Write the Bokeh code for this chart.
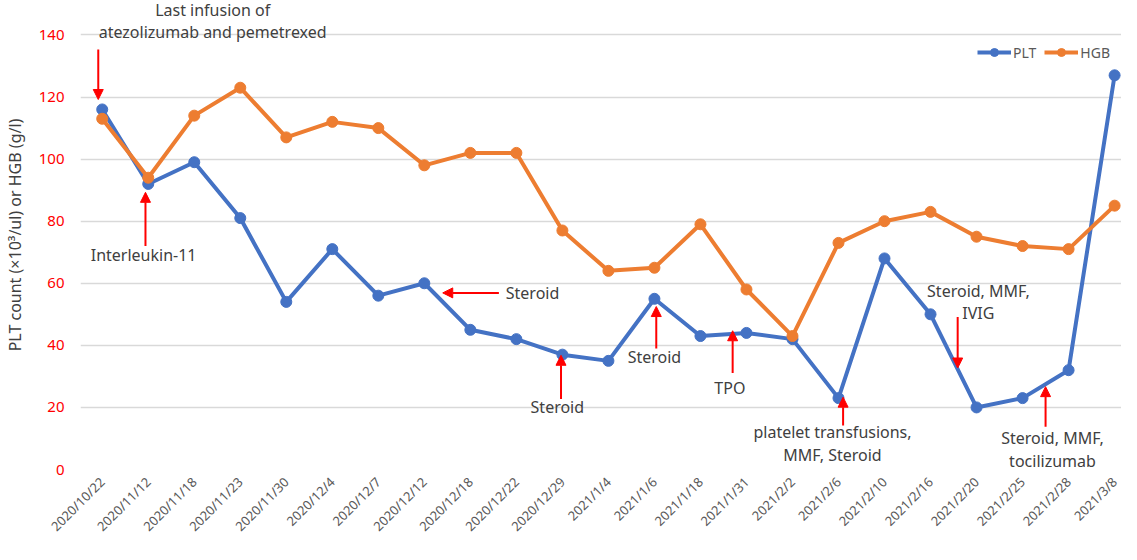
from bokeh.plotting import figure
from bokeh.models import Range1d, FixedTicker, Label, Arrow, NormalHead, Legend, LegendItem
from bokeh.embed import file_html
from bokeh.resources import INLINE

# ---- data ----
dates = ["2020/10/22", "2020/11/12", "2020/11/18", "2020/11/23", "2020/11/30",
         "2020/12/4", "2020/12/7", "2020/12/12", "2020/12/18", "2020/12/22",
         "2020/12/29", "2021/1/4", "2021/1/6", "2021/1/18", "2021/1/31",
         "2021/2/2", "2021/2/6", "2021/2/10", "2021/2/16", "2021/2/20",
         "2021/2/25", "2021/2/28", "2021/3/8"]
plt_vals = [116, 92, 99, 81, 54, 71, 56, 60, 45, 42, 37, 35, 55, 43, 44, 42,
            23, 68, 50, 20, 23, 32, 127]
hgb_vals = [113, 94, 114, 123, 107, 112, 110, 98, 102, 102, 77, 64, 65, 79, 58,
            43, 73, 80, 83, 75, 72, 71, 85]
y_ticks = [0, 20, 40, 60, 80, 100, 120, 140]

ann_texts = [
    ["Last infusion of", "atezolizumab and pemetrexed"],
    ["Interleukin-11"],
    ["Steroid"],
    ["Steroid"],
    ["Steroid"],
    ["TPO"],
    ["platelet transfusions,", "MMF, Steroid"],
    ["Steroid, MMF,", "IVIG"],
    ["Steroid, MMF,", "tocilizumab"],
]

FONT = "Noto Sans"
BLUE = "#4472C4"
ORANGE = "#ED7D31"
RED = "#FF0000"
TXT = "#404040"

p = figure(width=1121, height=544, output_backend="svg", toolbar_location=None,
           x_range=Range1d(-0.472, 22.15), y_range=Range1d(0, 151.1),
           min_border_left=66, min_border_right=0, min_border_top=0,
           min_border_bottom=68)
p.outline_line_color = None
p.background_fill_color = "white"
p.border_fill_color = "white"

x = list(range(len(dates)))

# grid / axes
p.xgrid.grid_line_color = None
p.ygrid.grid_line_color = "#D9D9D9"
p.ygrid.grid_line_width = 1.5
p.yaxis.ticker = FixedTicker(ticks=y_ticks)
p.xaxis.ticker = FixedTicker(ticks=x)
p.xaxis.major_label_overrides = {i: d for i, d in enumerate(dates)}
p.xaxis.major_label_orientation = 0.785398
for ax in (p.xaxis, p.yaxis):
    ax.axis_line_color = None
    ax.major_tick_line_color = None
    ax.minor_tick_line_color = None
p.xaxis.major_label_text_font = FONT
p.xaxis.major_label_text_font_size = "13px"
p.xaxis.major_label_text_color = "#595959"
p.xaxis.major_label_standoff = 4
p.yaxis.major_label_text_font = FONT
p.yaxis.major_label_text_font_size = "15px"
p.yaxis.major_label_text_color = RED
p.yaxis.major_label_standoff = 10
p.yaxis.axis_label = "PLT count (\u00d710\u00b3/ul) or HGB (g/l)"
p.yaxis.axis_label_text_font = FONT
p.yaxis.axis_label_text_font_size = "16px"
p.yaxis.axis_label_text_font_style = "normal"
p.yaxis.axis_label_text_color = TXT
p.yaxis.axis_label_standoff = 10

# series
l1 = p.line(x, plt_vals, line_color=BLUE, line_width=4)
s1 = p.scatter(x, plt_vals, size=11, fill_color=BLUE, line_color=BLUE)
l2 = p.line(x, hgb_vals, line_color=ORANGE, line_width=4)
s2 = p.scatter(x, hgb_vals, size=11, fill_color=ORANGE, line_color=ORANGE)

legend = Legend(items=[LegendItem(label="PLT", renderers=[l1, s1]),
                       LegendItem(label="HGB", renderers=[l2, s2])],
                orientation="horizontal", location=(897, 407),
                border_line_color=None, background_fill_alpha=0,
                label_text_font=FONT, label_text_font_size="14px",
                label_text_color="#595959", glyph_width=34, glyph_height=20,
                label_standoff=2, spacing=8, padding=0, margin=0)
p.add_layout(legend)

# annotations
def add_text(lines, tx, ty, step, align="center"):
    for k, t in enumerate(lines):
        p.add_layout(Label(x=tx, y=ty - k * step, text=t, text_font=FONT,
                           text_font_size="16px", text_color=TXT,
                           text_align=align, text_baseline="middle"))

def add_arrow(ax_, y0, y1, x1=None):
    p.add_layout(Arrow(end=NormalHead(size=10, fill_color=RED, line_color=RED),
                       x_start=ax_, y_start=y0, x_end=ax_ if x1 is None else x1,
                       y_end=y1, line_color=RED, line_width=2))

step = 7.2
# 1 last infusion
add_text(ann_texts[0], 2.40, 148.0, step)
add_arrow(x[0] - 0.086, 135.3, 119.2)
# 2 interleukin
add_text(ann_texts[1], x[1] - 0.10, 69.0, step)
add_arrow(x[1] - 0.06, 72.0, 89.3)
# 3 steroid horizontal
add_text(ann_texts[2], x[8] + 0.77, 56.9, step, align="left")
add_arrow(x[8] + 0.62, 56.9, 56.9, x1=x[7] + 0.40)
# 4 steroid 12/29
add_text(ann_texts[3], x[10] - 0.11, 20.0, step)
add_arrow(x[10] - 0.03, 22.7, 36.8)
# 5 steroid 1/6
add_text(ann_texts[4], x[12] + 0.0, 36.2, step)
add_arrow(x[12] + 0.04, 39.0, 52.5)
# 6 TPO
add_text(ann_texts[5], x[14] - 0.36, 26.3, step)
add_arrow(x[14] - 0.30, 31.1, 44.7)
# 7 platelet transfusions
add_text(ann_texts[6], x[16] - 0.13, 12.0, step)
add_arrow(x[16] + 0.10, 14.2, 23.3)
# 8 IVIG
add_text(ann_texts[7], x[19] + 0.04, 57.5, step)
add_arrow(x[19] - 0.41, 49.1, 32.7)
# 9 tocilizumab
add_text(ann_texts[8], x[20] + 0.65, 10.0, step)
add_arrow(x[20] + 0.50, 13.8, 26.7)

open("out.html", "w").write(file_html(p, INLINE))
